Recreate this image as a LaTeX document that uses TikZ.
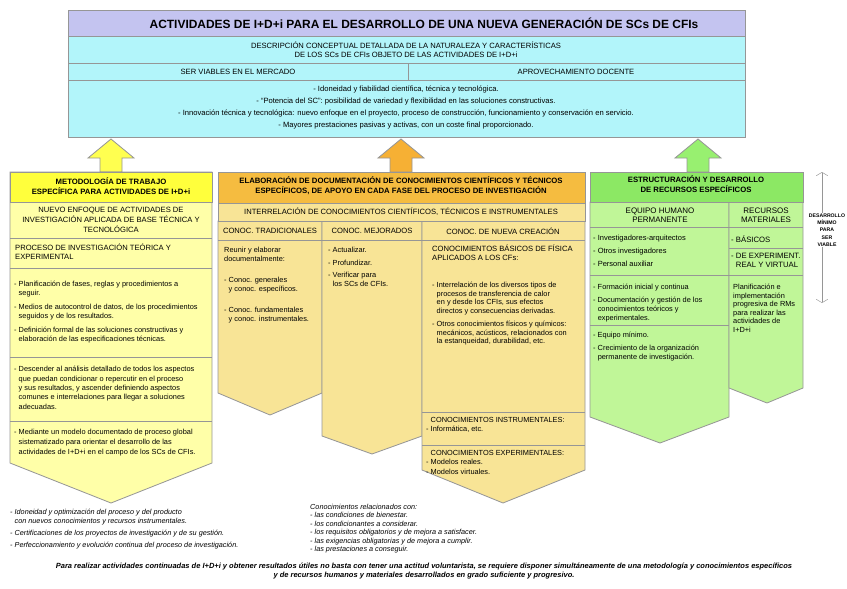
\documentclass[tikz,border=0pt]{standalone}
\usepackage{fontspec}
\setmainfont{Liberation Sans}
\usetikzlibrary{arrows.meta}

\definecolor{titleband}{RGB}{196,196,240}
\definecolor{cyanbox}{RGB}{178,245,250}
\definecolor{yelhead}{RGB}{255,255,60}
\definecolor{yelbody}{RGB}{255,255,168}
\definecolor{orahead}{RGB}{245,188,64}
\definecolor{orabody}{RGB}{248,228,150}
\definecolor{grehead}{RGB}{140,232,100}
\definecolor{grebody}{RGB}{192,246,152}
\definecolor{yelarrow}{RGB}{255,255,80}
\definecolor{oraarrow}{RGB}{246,176,52}
\definecolor{grearrow}{RGB}{152,240,112}
\definecolor{edgegray}{RGB}{150,150,150}

\newcommand{\dashind}{\phantom{- }}

\begin{document}
\begin{tikzpicture}[x=0.03cm, y=-0.03cm,
		box/.style={draw=edgegray, line width=0.7pt},
		body/.style={inner sep=0pt, anchor=north west, align=left, font=\fontsize{6.3}{7.3}\selectfont},
		mid/.style={inner sep=0pt, align=center, font=\fontsize{6.5}{7.7}\selectfont},
		head/.style={inner sep=0pt, align=center, font=\bfseries\fontsize{6.6}{9}\selectfont},
		note/.style={inner sep=0pt, anchor=north west, align=left, font=\itshape\fontsize{6.2}{7.4}\selectfont}]

			\useasboundingbox (0,0) rectangle (847,588);

			% Draw the top box
			\draw[box, fill=cyanbox] (68,10) rectangle (745,137);
			\draw[box, fill=titleband] (68,10) rectangle (745,36);
			\draw[box] (68,63) -- (745,63);
			\draw[box] (68,80) -- (745,80);
			\draw[box] (408,63) -- (408,80);

			\node[inner sep=0pt, font=\bfseries\fontsize{10.2}{12}\selectfont] (title) at (424,23)
			{ACTIVIDADES DE I+D+i PARA EL DESARROLLO DE UNA NUEVA GENERACIÓN DE SCs DE CFIs};
			\node[mid] (desc) at (406,49.5) {DESCRIPCIÓN CONCEPTUAL DETALLADA DE LA NATURALEZA Y CARACTERÍSTICAS\\
				DE LOS SCs DE CFIs OBJETO DE LAS ACTIVIDADES DE I+D+i};
			\node[mid] (mercado) at (238,71.5) {SER VIABLES EN EL MERCADO};
			\node[mid] (docente) at (576,71.5) {APROVECHAMIENTO DOCENTE};
			\node[mid, font=\fontsize{6.5}{10.5}\selectfont] (fines) at (406,107.5)
			{- Idoneidad y fiabilidad científica, técnica y tecnológica.\\
				- ``Potencia del SC'': posibilidad de variedad y flexibilidad en las soluciones constructivas.\\
				- Innovación técnica y tecnológica: nuevo enfoque en el proyecto, proceso de construcción, funcionamiento y conservación en servicio.\\
				- Mayores prestaciones pasivas y activas, con un coste final proporcionado.};

			% Draw the arrows pointing up to the top box
			\draw[box, fill=yelarrow] (111,139) -- (134,158) -- (122,158) -- (122,172) -- (100,172) -- (100,158) -- (88,158) -- cycle;
			\draw[box, fill=oraarrow] (401,139) -- (424,158) -- (412,158) -- (412,172) -- (390,172) -- (390,158) -- (378,158) -- cycle;
			\draw[box, fill=grearrow] (698,139) -- (721,158) -- (709,158) -- (709,172) -- (687,172) -- (687,158) -- (675,158) -- cycle;

			% Draw the left column
			\draw[box, fill=yelbody] (10,172) -- (212,172) -- (212,463) -- (111,503) -- (10,463) -- cycle;
			\draw[box, fill=yelhead] (10,172) rectangle (212,202);
			\draw[box] (10,238) -- (212,238);
			\draw[box] (10,268) -- (212,268);
			\draw[box] (10,357) -- (212,357);
			\draw[box] (10,421) -- (212,421);

			\node[head] (metodo) at (111,186) {METODOLOGÍA DE TRABAJO\\ESPECÍFICA PARA ACTIVIDADES DE I+D+i};
			\node[mid, font=\fontsize{6.5}{8.5}\selectfont] (enfoque) at (111,220)
			{NUEVO ENFOQUE DE ACTIVIDADES DE\\INVESTIGACIÓN APLICADA DE BASE TÉCNICA Y\\TECNOLÓGICA};
			\node[body, font=\fontsize{6.5}{7.7}\selectfont] (proceso) at (15,244) {PROCESO DE INVESTIGACIÓN TEÓRICA Y\\EXPERIMENTAL};
			\node[body] (fases) at (14,281)
			{- Planificación de fases, reglas y procedimientos a\\\dashind seguir.\\[5pt]
				- Medios de autocontrol de datos, de los procedimientos\\\dashind seguidos y de los resultados.\\[5pt]
				- Definición formal de las soluciones constructivas y\\\dashind elaboración de las especificaciones técnicas.};
			\node[body, font=\fontsize{6.3}{8}\selectfont] (descender) at (14,366)
			{- Descender al análisis detallado de todos los aspectos\\\dashind que puedan condicionar o repercutir en el proceso\\\dashind y sus resultados, y ascender definiendo aspectos\\\dashind comunes e interrelaciones para llegar a soluciones\\\dashind adecuadas.};
			\node[body, font=\fontsize{6.3}{8.3}\selectfont] (mediante) at (14,429)
			{- Mediante un modelo documentado de proceso global\\\dashind sistematizado para orientar el desarrollo de las\\\dashind actividades de I+D+i en el campo de los SCs de CFIs.};

			% Draw the middle column
			\draw[box, fill=orabody] (218,221) -- (322,221) -- (322,393) -- (270,415) -- (218,393) -- cycle;
			\draw[box, fill=orabody] (322,221) -- (422,221) -- (422,436) -- (372,454) -- (322,436) -- cycle;
			\draw[box, fill=orabody] (422,221) -- (585,221) -- (585,470) -- (503,503) -- (422,470) -- cycle;
			\draw[box, fill=orabody] (218,203) rectangle (585,221);
			\draw[box, fill=orahead] (218,172) rectangle (585,203);
			\draw[box] (218,240) -- (585,240);
			\draw[box] (422,412) -- (585,412);
			\draw[box] (422,445) -- (585,445);

			\node[head] (elabora) at (401,185.5) {ELABORACIÓN DE DOCUMENTACIÓN DE CONOCIMIENTOS CIENTÍFICOS Y TÉCNICOS\\
				ESPECÍFICOS, DE APOYO EN CADA FASE DEL PROCESO DE INVESTIGACIÓN};
			\node[mid] (interrel) at (401,212) {INTERRELACIÓN DE CONOCIMIENTOS CIENTÍFICOS, TÉCNICOS E INSTRUMENTALES};
			\node[mid] (tradic) at (270,231) {CONOC. TRADICIONALES};
			\node[mid] (mejor) at (372,231) {CONOC. MEJORADOS};
			\node[mid] (nueva) at (503,231) {CONOC. DE NUEVA CREACIÓN};
			\node[body] (reunir) at (224,247)
			{Reunir y elaborar\\documentalmente:\\[11pt]
				- Conoc. generales\\\dashind y conoc. específicos.\\[11pt]
				- Conoc. fundamentales\\\dashind y conoc. instrumentales.};
			\node[body] (actual) at (328,247)
			{- Actualizar.\\[3.5pt]- Profundizar.\\[3.5pt]- Verificar para\\\dashind los SCs de CFIs.};
			\node[body, font=\fontsize{6.5}{7.6}\selectfont] (basicos) at (432,245) {CONOCIMIENTOS BÁSICOS DE FÍSICA\\APLICADOS A LOS CFs:};
			\node[body] (transfer) at (432,282)
			{- Interrelación de los diversos tipos de\\\dashind procesos de transferencia de calor\\\dashind en y desde los CFIs, sus efectos\\\dashind directos y consecuencias derivadas.\\[4pt]
				- Otros conocimientos físicos y químicos:\\\dashind mecánicos, acústicos, relacionados con\\\dashind la estanqueidad, durabilidad, etc.};
			\node[body, font=\fontsize{6.3}{8}\selectfont] (instrum) at (426,417)
			{\dashind CONOCIMIENTOS INSTRUMENTALES:\\- Informática, etc.};
			\node[body, font=\fontsize{6.3}{8}\selectfont] (experim) at (426,450)
			{\dashind CONOCIMIENTOS EXPERIMENTALES:\\- Modelos reales.\\- Modelos virtuales.};

			% Draw the right column
			\draw[box, fill=grebody] (590,202) -- (729,202) -- (729,417) -- (660,443) -- (590,417) -- cycle;
			\draw[box, fill=grebody] (729,202) -- (803,202) -- (803,388) -- (767,403) -- (729,388) -- cycle;
			\draw[box, fill=grehead] (590,172) rectangle (803,202);
			\draw[box] (590,227) -- (803,227);
			\draw[box] (590,275) -- (803,275);
			\draw[box] (590,325) -- (729,325);
			\draw[box] (729,248) -- (803,248);

			\node[head] (estruct) at (696,184) {ESTRUCTURACIÓN Y DESARROLLO\\DE RECURSOS ESPECÍFICOS};
			\node[mid, font=\fontsize{6.8}{7.9}\selectfont] (equipo) at (660,215) {EQUIPO HUMANO\\PERMANENTE};
			\node[mid, font=\fontsize{6.8}{7.9}\selectfont] (recursos) at (766,215) {RECURSOS\\MATERIALES};
			\node[body, font=\fontsize{6.4}{11}\selectfont] (personas) at (593,235)
			{- Investigadores-arquitectos\\- Otros investigadores\\- Personal auxiliar};
			\node[body, font=\fontsize{6.6}{7.7}\selectfont] (rmbas) at (731,236) {- BÁSICOS};
			\node[body, font=\fontsize{6.6}{7.7}\selectfont] (rmexp) at (731,253) {- DE EXPERIMENT.\\\dashind REAL Y VIRTUAL};
			\node[body] (formacion) at (593,284)
			{- Formación inicial y continua\\[4pt]
				- Documentación y gestión de los\\\dashind conocimientos teóricos y\\\dashind experimentales.};
			\node[body] (minimo) at (593,332)
			{- Equipo mínimo.\\[4pt]
				- Crecimiento de la organización\\\dashind permanente de investigación.};
			\node[body] (planif) at (733,284)
			{Planificación e\\implementación\\progresiva de RMs\\para realizar las\\actividades de\\I+D+i};

			% Draw the range arrow at the right
			\coordinate (rngtop) at (822,172);
			\coordinate (rngbot) at (822,303);
			\draw[edgegray, line width=0.4pt, {Straight Barb[length=3pt,width=10pt]}-{Straight Barb[length=3pt,width=10pt]}] (rngtop) -- (rngbot);
			\node[fill=white, inner sep=0.5pt, align=center, font=\bfseries\fontsize{4.4}{6.2}\selectfont] (viable) at (827,230)
			{DESARROLLO\\MÍNIMO\\PARA\\SER\\VIABLE};

			% Notes under the columns
			\node[note] (logros) at (10,509)
			{- Idoneidad y optimización del proceso y del producto\\\dashind con nuevos conocimientos y recursos instrumentales.\\[3pt]
				- Certificaciones de los proyectos de investigación y de su gestión.\\[3pt]
				- Perfeccionamiento y evolución continua del proceso de investigación.};
			\node[note, font=\itshape\fontsize{6.2}{7.2}\selectfont] (relacion) at (310,504)
			{Conocimientos relacionados con:\\- las condiciones de bienestar.\\- los condicionantes a considerar.\\- los requisitos obligatorios y de mejora a satisfacer.\\- las exigencias obligatorias y de mejora a cumplir.\\- las prestaciones a conseguir.};
			\node[inner sep=0pt, align=center, font=\bfseries\itshape\fontsize{6.4}{7.7}\selectfont] (conclusion) at (424,571)
			{Para realizar actividades continuadas de I+D+i y obtener resultados útiles no basta con tener una actitud voluntarista, se requiere disponer simultáneamente de una metodología y conocimientos específicos\\
				y de recursos humanos y materiales desarrollados en grado suficiente y progresivo.};

		\end{tikzpicture}
\end{document}
